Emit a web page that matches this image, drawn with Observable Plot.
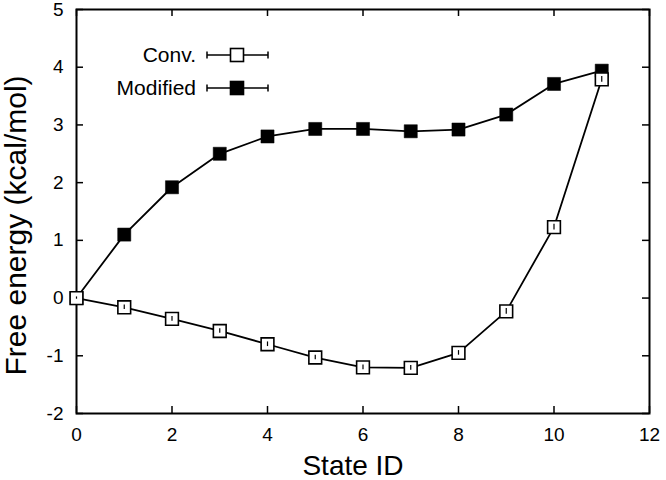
<!DOCTYPE html>
<html><head><meta charset="utf-8">
<script src="https://cdn.jsdelivr.net/npm/d3@7"></script>
<script src="https://cdn.jsdelivr.net/npm/@observablehq/plot@0.6"></script>
<style>body{margin:0;background:#fff} #chart{position:relative;width:666px;height:480px}</style>
</head><body><div id="chart"></div>
<script>
const stateIds = [0, 1, 2, 3, 4, 5, 6, 7, 8, 9, 10, 11];
const convValues = [0, -0.16, -0.36, -0.57, -0.80, -1.03, -1.20, -1.21, -0.95, -0.23, 1.23, 3.79];
const convErrors = [0.02, 0.04, 0.04, 0.04, 0.04, 0.04, 0.04, 0.04, 0.04, 0.05, 0.05, 0.05];
const modValues = [0, 1.10, 1.92, 2.50, 2.80, 2.93, 2.93, 2.89, 2.92, 3.18, 3.71, 3.94];
const modErrors = [0.02, 0.03, 0.03, 0.03, 0.03, 0.03, 0.03, 0.03, 0.03, 0.03, 0.03, 0.03];
const xTicks = [0, 2, 4, 6, 8, 10, 12];
const yTicks = [-2, -1, 0, 1, 2, 3, 4, 5];
const seriesNames = ["Conv.", "Modified"];
const xLabel = "State ID";
const yLabel = "Free energy (kcal/mol)";

const conv = stateIds.map((s, i) => ({series: seriesNames[0], x: s, v: convValues[i], e: convErrors[i]}));
const mod = stateIds.map((s, i) => ({series: seriesNames[1], x: s, v: modValues[i], e: modErrors[i]}));

const W = 666, H = 480, ML = 76, MR = 17, MT = 9, MB = 67, TICK = 7;
const xDom = [0, 12], yDom = [-2, 5];
const innerW = W - ML - MR, innerH = H - MT - MB;
// inward tick length converted to data units
const tyLen = (yDom[1] - yDom[0]) * TICK / innerH;
const txLen = (xDom[1] - xDom[0]) * TICK / innerW;
const font = "'Liberation Sans', Arial, Helvetica, sans-serif";
const fmt = d => String(d);
const plot = Plot.plot({
  width: W, height: H,
  marginLeft: ML, marginRight: MR, marginTop: MT, marginBottom: MB,
  x: {domain: xDom},
  y: {domain: yDom},
  style: {fontFamily: font, fontSize: "19px", background: "#fff", color: "#000"},
  marks: [
    Plot.axisX(xTicks, {anchor: "bottom", tickSize: 0, tickPadding: 14, label: null, tickFormat: fmt, fontSize: 19}),
    Plot.axisY(yTicks, {anchor: "left", tickSize: 0, tickPadding: 13, label: null, tickFormat: fmt, fontSize: 19}),
    // inward ticks on all four sides
    Plot.ruleX(xTicks, {x: d => d, y1: yDom[0], y2: yDom[0] + tyLen, stroke: "black", strokeWidth: 1.5}),
    Plot.ruleX(xTicks, {x: d => d, y1: yDom[1], y2: yDom[1] - tyLen, stroke: "black", strokeWidth: 1.5}),
    Plot.ruleY(yTicks, {y: d => d, x1: xDom[0], x2: xDom[0] + txLen, stroke: "black", strokeWidth: 1.5}),
    Plot.ruleY(yTicks, {y: d => d, x1: xDom[1], x2: xDom[1] - txLen, stroke: "black", strokeWidth: 1.5}),
    Plot.frame({stroke: "black", strokeWidth: 2}),
    Plot.line(mod, {x: "x", y: "v", stroke: "black", strokeWidth: 1.8}),
    Plot.ruleX(mod, {x: "x", y1: d => d.v - d.e, y2: d => d.v + d.e, stroke: "black", strokeWidth: 1.5}),
    Plot.dot(mod, {x: "x", y: "v", symbol: "square", r: 7.4, fill: "black", stroke: "black", strokeWidth: 0.5}),
    Plot.line(conv, {x: "x", y: "v", stroke: "black", strokeWidth: 1.8}),
    Plot.dot(conv, {x: "x", y: "v", symbol: "square", r: 7.2, fill: "white", stroke: "black", strokeWidth: 1.6}),
    Plot.ruleX(conv, {x: "x", y1: d => d.v - d.e, y2: d => d.v + d.e, stroke: "black", strokeWidth: 1.2}),
    Plot.text([yLabel], {text: d => d, frameAnchor: "left", textAnchor: "middle", lineAnchor: "middle", rotate: -90, dx: -60, dy: 14, fontSize: 30}),
    Plot.text([xLabel], {text: d => d, frameAnchor: "bottom", textAnchor: "middle", lineAnchor: "middle", dx: -10, dy: 53, fontSize: 28})
  ]
});
document.getElementById("chart").appendChild(plot);

// legend inside the frame
const svg = d3.select(plot);
const leg = svg.append("g").attr("font-family", font).attr("font-size", 21);
const legendRows = [
  {name: seriesNames[0], fill: "white", y: 55},
  {name: seriesNames[1], fill: "black", y: 88}
];
legendRows.forEach(r => {
  leg.append("text").attr("x", 196).attr("y", r.y).attr("dy", "0.35em").attr("text-anchor", "end").text(r.name);
  leg.append("line").attr("x1", 207).attr("x2", 268).attr("y1", r.y).attr("y2", r.y).attr("stroke", "black").attr("stroke-width", 1.5);
  [207, 268].forEach(cx => leg.append("line").attr("x1", cx).attr("x2", cx).attr("y1", r.y - 3.5).attr("y2", r.y + 3.5).attr("stroke", "black").attr("stroke-width", 1.5));
  leg.append("rect").attr("x", 237 - 6.5).attr("y", r.y - 6.5).attr("width", 13).attr("height", 13)
    .attr("fill", r.fill).attr("stroke", "black").attr("stroke-width", 1.6);
});
</script></body></html>
